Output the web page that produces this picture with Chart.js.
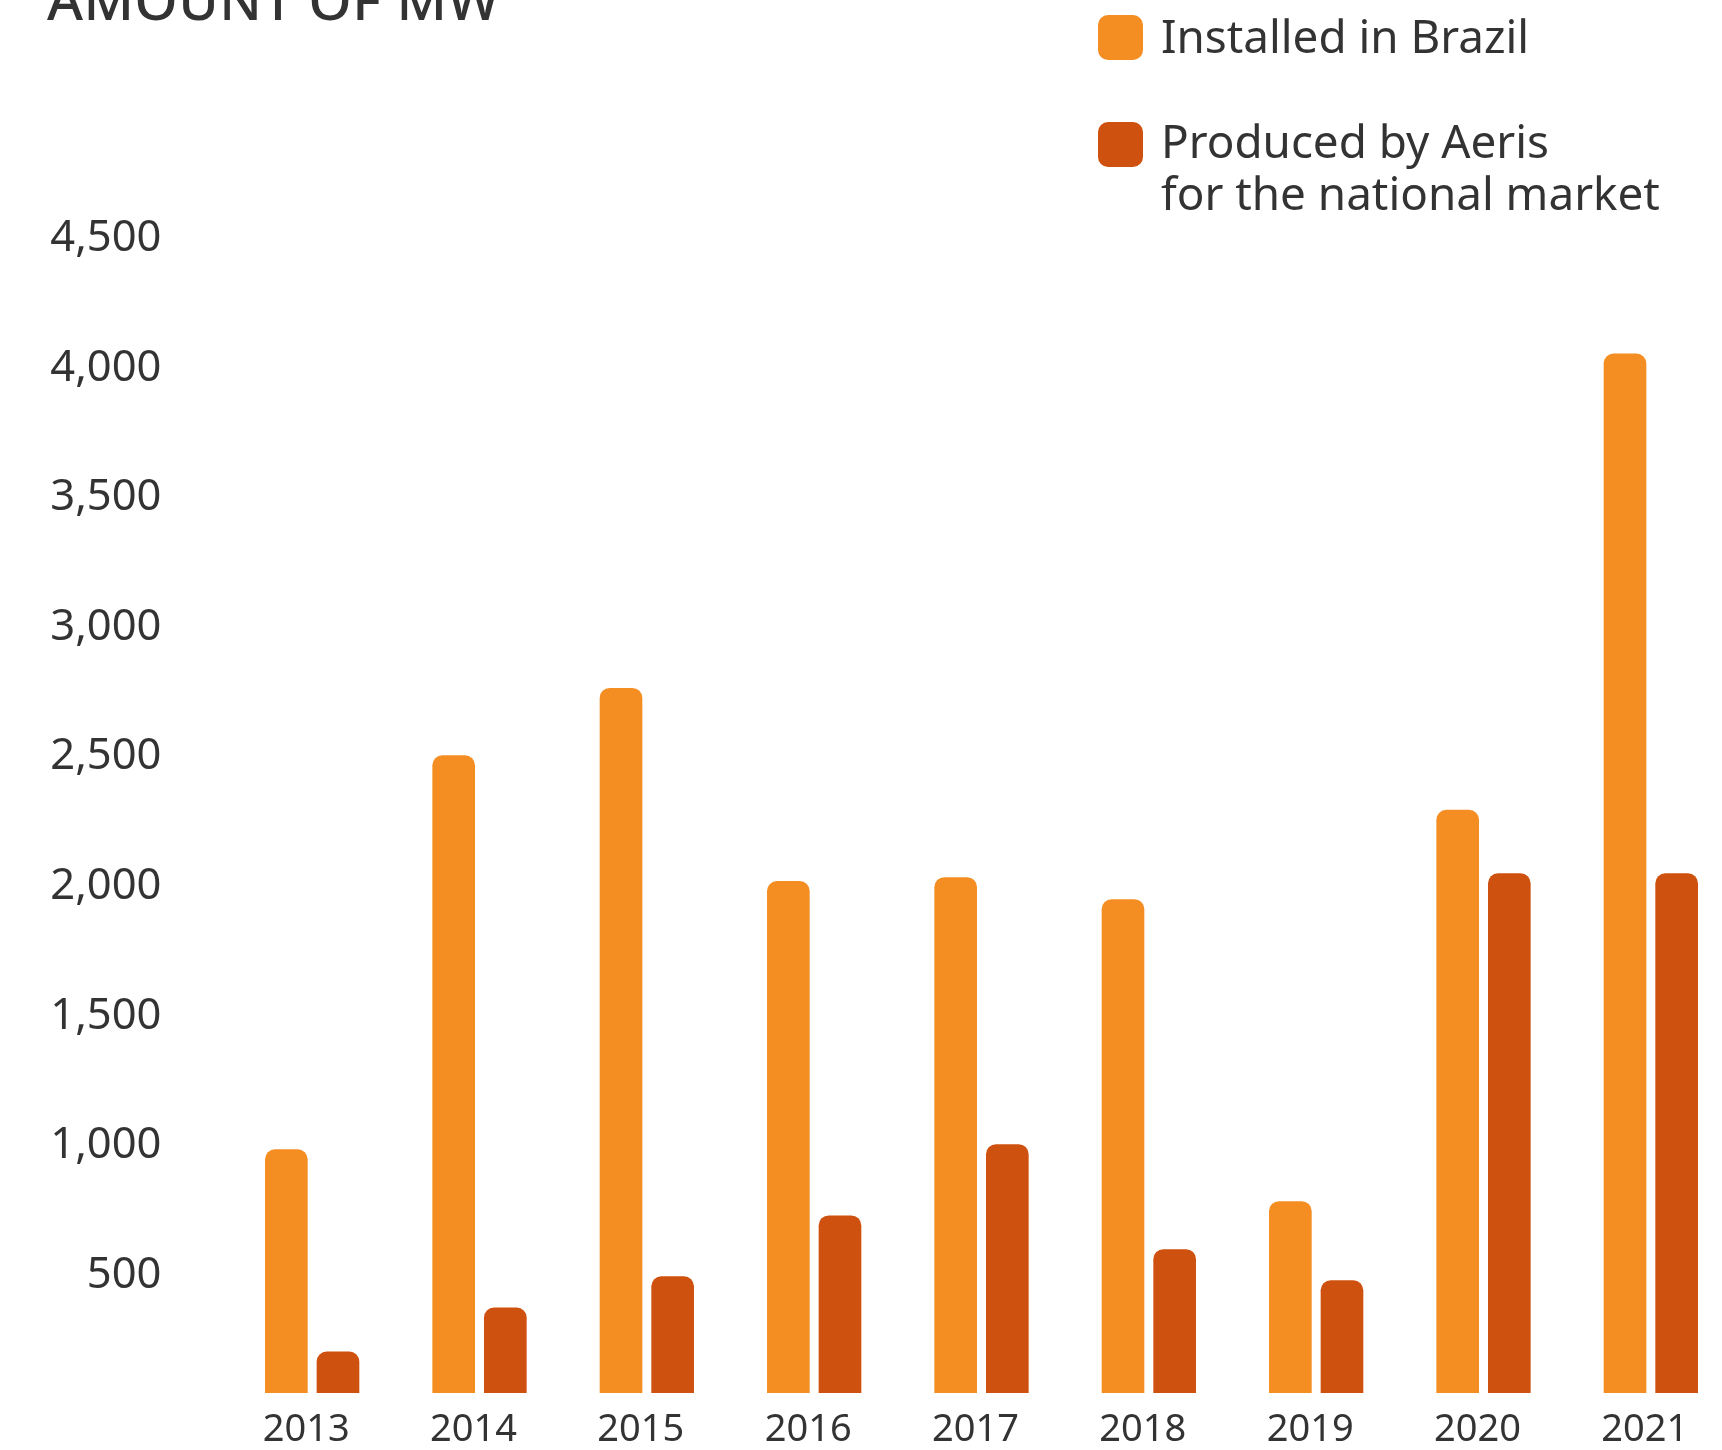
<!DOCTYPE html>
<html>
<head>
<meta charset="utf-8">
<script src="https://cdn.jsdelivr.net/npm/chart.js@4/dist/chart.umd.min.js"></script>
<style>
  html, body { margin: 0; padding: 0; background: #fff; overflow: hidden; }
  body { width: 1722px; height: 1450px; position: relative; font-family: "Noto Sans", sans-serif; color: #333; }
  #wrap { position: absolute; left: 0; top: 0; width: 1740px; height: 1450px; }
  .title { position: absolute; left: 47px; top: -29px; font-size: 55px; line-height: 55px; font-weight: 500; letter-spacing: 0.5px; white-space: nowrap; }
  .legend { position: absolute; left: 1098px; top: 0; }
  .item { position: absolute; left: 0; white-space: nowrap; }
  .swatch { position: absolute; left: 0; width: 45px; height: 45px; border-radius: 10px; }
  .label { position: absolute; left: 63px; font-size: 45.8px; line-height: 52px; }
</style>
</head>
<body>
<div id="wrap"><canvas id="chart"></canvas></div>
<div class="title">AMOUNT OF MW</div>
<div class="legend" id="legend"></div>
<script>
// ─── Data ─────────────────────────────────────────────────────────────────────
const years     = ["2013", "2014", "2015", "2016", "2017", "2018", "2019", "2020", "2021"];
const installed = [940, 2460, 2720, 1975, 1990, 1905, 740, 2250, 4010];
const aeris     = [160, 330, 450, 685, 960, 555, 435, 2005, 2005];
const yTicks    = [500, 1000, 1500, 2000, 2500, 3000, 3500, 4000, 4500];
const seriesNames = ["Installed in Brazil", "Produced by Aeris\nfor the national market"];

const ORANGE = "#F58E22";
const RUST   = "#CF510F";
const TEXT   = "#333333";

// ─── Legend (html) ───────────────────────────────────────────────────────────
const legendEl = document.getElementById("legend");
[[ORANGE, seriesNames[0], 15, 9], [RUST, seriesNames[1], 122, 114]].forEach(([color, name, sqTop, txtTop]) => {
  const item = document.createElement("div");
  item.className = "item";
  item.innerHTML = `<div class="swatch" style="top:${sqTop}px;background:${color}"></div>` +
    `<div class="label" style="top:${txtTop}px">${name.split("\n").join("<br>")}</div>`;
  legendEl.appendChild(item);
});

// ─── Chart ───────────────────────────────────────────────────────────────────
const canvas = document.getElementById("chart");
canvas.width = 1740; canvas.height = 1450;

const barStyle = { borderRadius: { topLeft: 10, topRight: 10 }, borderSkipped: "start",
                   categoryPercentage: 0.6173, barPercentage: 0.826 };

new Chart(canvas, {
  type: "bar",
  data: {
    labels: years,
    datasets: [
      { label: seriesNames[0], data: installed, backgroundColor: ORANGE, ...barStyle },
      { label: seriesNames[1], data: aeris,     backgroundColor: RUST,   ...barStyle }
    ]
  },
  options: {
    responsive: false,
    animation: false,
    layout: { padding: { top: 226.5, right: 5.5, bottom: 0, left: 0 } },
    plugins: { legend: { display: false }, tooltip: { enabled: false } },
    scales: {
      x: {
        grid: { display: false, drawTicks: false },
        border: { display: false },
        ticks: { color: TEXT, padding: 14, labelOffset: -6, font: { family: "Noto Sans", size: 38 }, maxRotation: 0 },
        afterFit: s => { s.height = 57; s.paddingLeft = 0; s.paddingRight = 0; }
      },
      y: {
        min: 0, max: 4500,
        grid: { display: false, drawTicks: false },
        border: { display: false },
        afterBuildTicks: s => { s.ticks = [0, ...yTicks].map(v => ({ value: v })); },
        ticks: {
          color: TEXT, padding: 67, labelOffset: 12,
          font: { family: "Noto Sans", size: 43.5 },
          callback: v => v === 0 ? "" : v.toLocaleString("en-US")
        },
        afterFit: s => { s.width = 228.5; s.paddingTop = 0; s.paddingBottom = 0; }
      }
    }
  }
});
</script>
</body>
</html>
